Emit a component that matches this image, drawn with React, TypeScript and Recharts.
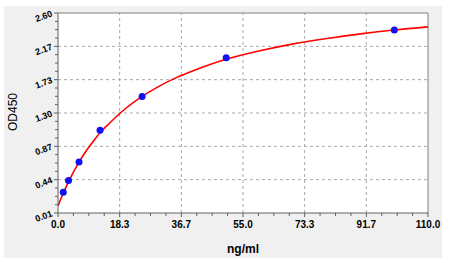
import { CartesianGrid, ComposedChart, Line, ReferenceLine, Scatter, XAxis, YAxis } from 'recharts';

// standard points (ng/ml vs OD450)
const concentrations = [1.56, 3.125, 6.25, 12.5, 25, 50, 100];
const odValues = [0.28, 0.43, 0.67, 1.08, 1.52, 2.02, 2.38];

// fitted curve
const curveX = [0, 1, 2, 4, 6, 8, 10, 12.5, 15, 20, 25, 30, 35, 40, 45, 50, 60, 70, 80, 90, 100, 110];
const curveY = [0.1, 0.21, 0.31, 0.49, 0.65, 0.79, 0.91, 1.05, 1.16, 1.36, 1.52, 1.65, 1.76, 1.85, 1.93, 2.0, 2.11, 2.2, 2.27, 2.33, 2.38, 2.42];

const xTickValues = [0, 18.3333, 36.6667, 55, 73.3333, 91.6667, 110];
const xTickLabels = ['0.0', '18.3', '36.7', '55.0', '73.3', '91.7', '110.0'];
const yTickValues = [0.01, 0.441667, 0.873333, 1.305, 1.736667, 2.168333, 2.6];
const yTickLabels = ['0.01', '0.44', '0.87', '1.30', '1.73', '2.17', '2.60'];

const points = concentrations.map((x, i) => ({ x, y: odValues[i] }));
const curve = curveX.map((x, i) => ({ x, y: curveY[i] }));

// 3 minor ticks between each pair of majors
const withMinors = (majors: number[]) => {
  const out: number[] = [];
  majors.forEach((v, i) => {
    out.push(v);
    if (i < majors.length - 1) {
      const step = (majors[i + 1] - v) / 4;
      for (let k = 1; k < 4; k++) out.push(v + step * k);
    }
  });
  return out;
};

const xTicksAll = withMinors(xTickValues);
const yTicksAll = withMinors(yTickValues);

const font = '"Liberation Sans", Arial, sans-serif';
const axisColor = '#606060';

const XTick = ({ x, y, index }: any) => {
  const major = index % 4 === 0;
  return (
    <g>
      <line x1={x} y1={y} x2={x} y2={y + (major ? 4 : 3)} stroke={axisColor} />
      {major && (
        <text x={x} y={y + 15} textAnchor="middle" fontSize={10} fontWeight="bold" fontFamily={font} fill="#000">
          {xTickLabels[index / 4]}
        </text>
      )}
    </g>
  );
};

const YTick = ({ x, y, index }: any) => {
  const major = index % 4 === 0;
  return (
    <g>
      <line x1={x} y1={y} x2={x - (major ? 4 : 3)} y2={y} stroke={axisColor} />
      {major && (
        <text
          x={x - 5}
          y={y + 3}
          textAnchor="end"
          fontSize={9}
          fontWeight="bold"
          fontFamily={font}
          fill="#000"
          transform={`rotate(-20 ${x - 5} ${y + 3})`}
        >
          {yTickLabels[index / 4]}
        </text>
      )}
    </g>
  );
};

const XTitle = ({ viewBox }: any) => (
  <text x={viewBox.x + viewBox.width / 2} y={viewBox.y + 40} textAnchor="middle" fontSize={12} fontWeight="bold" fontFamily={font} fill="#000">
    ng/ml
  </text>
);

const YTitle = ({ viewBox }: any) => {
  const cx = 9;
  const cy = viewBox.y + viewBox.height / 2 - 1;
  return (
    <text x={cx} y={cy} textAnchor="middle" dominantBaseline="central" fontSize={12} fontFamily={font} fill="#000" transform={`rotate(-90 ${cx} ${cy})`}>
      OD450
    </text>
  );
};

export default function App() {
  return (
    <div style={{ position: 'absolute', left: 0, top: 0, width: 473, height: 263, background: '#fff' }}>
      <div style={{ position: 'absolute', left: 4, top: 6, width: 438, height: 252, background: '#f0f0f0' }}>
        <ComposedChart width={438} height={252} margin={{ top: 7, right: 14, bottom: 0, left: 0 }}>
          <CartesianGrid fill="#ffffff" horizontal={false} vertical={false} />
          <XAxis
            type="number"
            dataKey="x"
            domain={[0, 110]}
            ticks={xTicksAll}
            interval={0}
            height={45}
            tickSize={0}
            tickMargin={0}
            tick={<XTick />}
            stroke={axisColor}
            allowDataOverflow
            label={<XTitle />}
          />
          <YAxis
            type="number"
            dataKey="y"
            domain={[0.01, 2.6]}
            ticks={yTicksAll}
            interval={0}
            width={54}
            tickSize={0}
            tickMargin={0}
            tick={<YTick />}
            stroke={axisColor}
            allowDataOverflow
            label={<YTitle />}
          />
          {xTickValues.slice(1, -1).map((v) => (
            <ReferenceLine key={`gx${v}`} x={v} stroke="#a8a8a8" strokeDasharray="3 3" />
          ))}
          {yTickValues.slice(1, -1).map((v) => (
            <ReferenceLine key={`gy${v}`} y={v} stroke="#a8a8a8" strokeDasharray="3 3" />
          ))}
          <ReferenceLine x={110} stroke="#808080" />
          <ReferenceLine y={2.6} stroke="#808080" />
          <Line data={curve} dataKey="y" type="monotone" stroke="#ff0000" strokeWidth={1.6} dot={false} isAnimationActive={false} />
          <Scatter
            data={points}
            dataKey="y"
            fill="#1010f0"
            isAnimationActive={false}
            shape={(p: any) => <circle cx={p.cx} cy={p.cy} r={3.5} fill="#1010f0" />}
          />
        </ComposedChart>
      </div>
    </div>
  );
}
